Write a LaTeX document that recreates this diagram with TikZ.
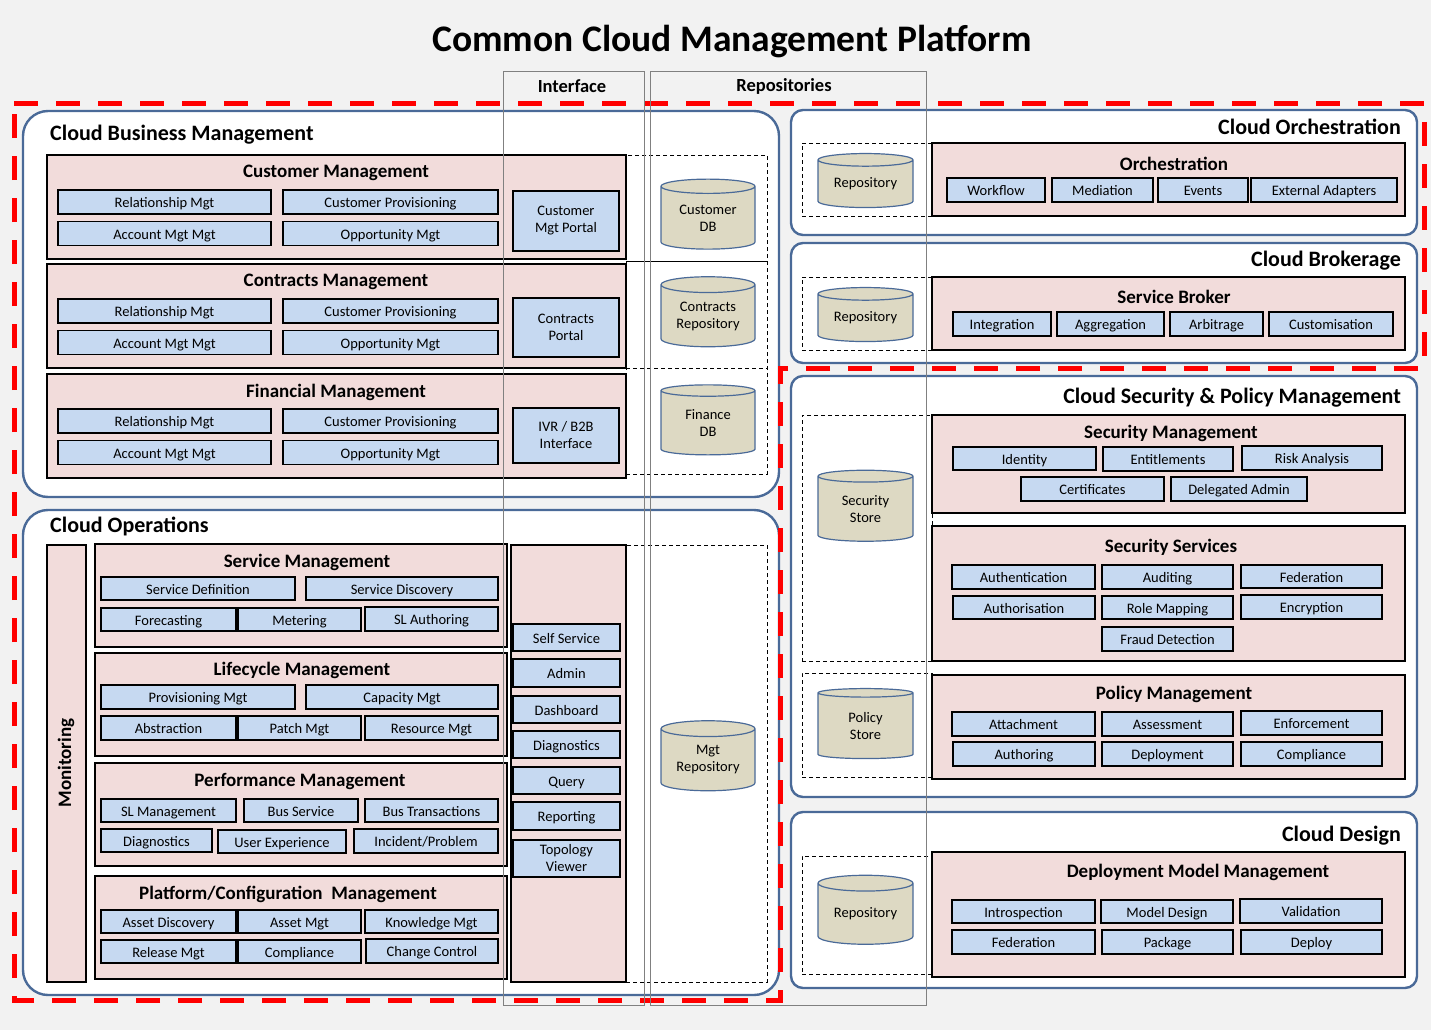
\documentclass[tikz,border=0pt]{standalone}
\usepackage{fontspec}
\setmainfont{Carlito}
\usetikzlibrary{positioning, fit, shapes.geometric, backgrounds}
\definecolor{bggray}{RGB}{242,242,242}
\definecolor{grppink}{RGB}{242,220,219}
\definecolor{subblue}{RGB}{198,217,241}
\definecolor{dbtan}{RGB}{221,217,195}
\definecolor{frameblue}{RGB}{74,106,152}
\definecolor{colgray}{RGB}{128,128,128}

\tikzset{
  area/.style={draw=frameblue, line width=2.4pt, fill=white, inner sep=0pt, rounded corners=#1},
  area/.default=12,
  areatitle/.style={font=\fontsize{22}{25}\selectfont\bfseries, inner sep=0pt},
  grp/.style={draw=black, line width=1.1pt, fill=grppink, inner sep=0pt},
  grptitle/.style={font=\fontsize{19}{22}\selectfont\bfseries, inner sep=0pt},
  sub/.style={draw=black, line width=1.1pt, fill=subblue, inner sep=0pt,
    font=\fontsize{14.5}{17}\selectfont, text height=13pt, text depth=1.5pt},
  subtwo/.style={draw=black, line width=1.1pt, fill=subblue, inner sep=0pt, align=center,
    font=\fontsize{14.5}{17}\selectfont},
  dashbox/.style={draw=black, line width=0.9pt, dash pattern=on 4pt off 3pt, inner sep=0pt},
  db/.style={cylinder, shape border rotate=90, aspect=0.25, draw=frameblue, line width=1.2pt,
    fill=dbtan, inner sep=0pt, align=center, font=\fontsize{14.5}{17}\selectfont},
  colbox/.style={draw=colgray, line width=1pt, inner sep=0pt},
  colhead/.style={font=\fontsize{18.5}{21}\selectfont\bfseries, inner sep=0pt},
  redline/.style={draw=red, line width=5pt, dash pattern=on 24pt off 18pt}
}

\begin{document}
\begin{tikzpicture}[x=1pt, y=-1pt]
\path[use as bounding box, fill=bggray] (0,0) rectangle (1431,1030);
\node[font=\fontsize{37.5}{42}\selectfont\bfseries] (maintitle) at (732,42) {Common Cloud Management Platform};

% ---- Cloud Business Management
\node[area=25, fit={(23,111)(779,497)}] (cbm) {};
\node[areatitle, anchor=west] (cbmtitle) at (50,135) {Cloud Business Management};
\node[dashbox, fit={(626,155)(767,474)}] (cbmrepo) {};
\draw[line width=0.9pt] (626,261) -- (767,261);
\draw[line width=0.9pt, dash pattern=on 4pt off 3pt] (626,368) -- (767,368);
\foreach \g/\y/\ttl in {cust/155/Customer Management, cont/264/Contracts Management, fin/374/Financial Management}{
  \node[grp, fit={(47,\y)(626,\y+104)}] (\g) {};
  \node[grptitle] (\g-title) at (336,\y+18) {\ttl};
  \node[sub, minimum width=213, minimum height=24] (\g-rel) at (164.5,\y+47) {Relationship Mgt};
  \node[sub, minimum width=215, minimum height=24] (\g-prov) at (390.5,\y+47) {Customer Provisioning};
  \node[sub, minimum width=213, minimum height=24] (\g-acct) at (164.5,\y+78.5) {Account Mgt Mgt};
  \node[sub, minimum width=215, minimum height=24] (\g-opp) at (390.5,\y+78.5) {Opportunity Mgt};
}
\node[subtwo, minimum width=106, minimum height=60] (custportal) at (566,221) {Customer\\Mgt Portal};
\node[subtwo, minimum width=106, minimum height=59] (contportal) at (566,327.5) {Contracts\\Portal};
\node[subtwo, minimum width=106, minimum height=55] (finportal) at (566,435.5) {IVR / B2B\\Interface};
\node[db, minimum width=94pt, minimum height=70pt] (custdb) at (708,218) {Customer\\DB};
\node[db, minimum width=94pt, minimum height=70pt] (contdb) at (708,316) {Contracts\\Repository};
\node[db, minimum width=94pt, minimum height=70pt] (findb) at (708,423) {Finance\\DB};

% ---- Cloud Operations
\node[area=25, fit={(23,510)(779,995)}] (cops) {};
\node[areatitle, anchor=west] (copstitle) at (50,526) {Cloud Operations};
\node[grp, fit={(47,545)(86,982)}] (monitor) {};
\node[grptitle, rotate=90] (montitle) at (66,763) {Monitoring};
\node[grp, fit={(95,544)(507,647)}] (svcmgt) {};
\node[grptitle] (svcmgttitle) at (307,562) {Service Management};
\node[grp, fit={(95,653)(507,756)}] (lcmgt) {};
\node[grptitle] (lcmgttitle) at (302,670) {Lifecycle Management};
\node[grp, fit={(95,763)(507,866)}] (perfmgt) {};
\node[grptitle] (perfmgttitle) at (300,781) {Performance Management};
\node[grp, fit={(95,876)(507,979)}] (platmgt) {};
\node[grptitle] (platmgttitle) at (288,894) {Platform/Configuration\ \ Management};
\foreach \nm/\xa/\ya/\xb/\yb/\txt in {
  svcdef/101/577/295/600/Service Definition, svcdisc/306/577/498/600/Service Discovery,
  forecast/101/608/236/631/Forecasting, meter/238/608/361/631/Metering, slauth/365/607/498/631/SL Authoring,
  provmgt/101/685/295/709/Provisioning Mgt, capmgt/306/685/498/709/Capacity Mgt,
  abstr/101/716/236/740/Abstraction, patch/238/716/361/740/Patch Mgt, resmgt/365/716/498/740/Resource Mgt,
  slmgt/101/799/236/822/SL Management, bussvc/244/799/358/822/Bus Service, bustx/365/799/498/822/Bus Transactions,
  diag/101/829/212/852/Diagnostics, userexp/218/830/346/853/User Experience, incprob/354/829/498/853/{Incident/Problem},
  assetdisc/101/910/236/933/Asset Discovery, assetmgt/238/910/361/933/Asset Mgt, knowmgt/365/910/498/933/Knowledge Mgt,
  relmgt/101/940/236/963/Release Mgt, compl/238/940/361/963/Compliance, chgctl/366/939/498/963/Change Control}{
  \node[sub, minimum width=\xb-\xa, minimum height=\yb-\ya] (\nm) at ({(\xa+\xb)/2},{(\ya+\yb)/2}) {\txt};
}
\node[grp, fit={(511,545)(626,982)}] (opsiface) {};
\foreach \nm/\ya/\yb/\txt in {selfsvc/624/651/Self Service, admin/659/687/Admin, dashb/696/723/Dashboard,
  diagi/731/758/Diagnostics, query/767/794/Query, report/802/830/Reporting}{
  \node[sub, minimum width=107, minimum height=\yb-\ya] (\nm) at (566.5,{(\ya+\yb)/2}) {\txt};
}
\node[subtwo, minimum width=107, minimum height=37] (topo) at (566.5,858.5) {Topology\\Viewer};
\node[dashbox, fit={(626,545)(767,982)}] (opsrepo) {};
\node[db, minimum width=94pt, minimum height=70pt] (mgtdb) at (708,760) {Mgt\\Repository};

% ---- Cloud Orchestration
\node[area, fit={(791,110)(1417,235)}] (corch) {};
\node[areatitle, anchor=east] (corchtitle) at (1401,127) {Cloud Orchestration};
\node[dashbox, fit={(802,143)(932,216)}] (orchrepo) {};
\node[db, aspect=0.2, minimum width=95pt, minimum height=54pt] (orchdb) at (865.5,184) {Repository};
\node[grp, fit={(932,143)(1405,216)}] (orch) {};
\node[grptitle] (orchtitle) at (1174,164) {Orchestration};
\foreach \nm/\xa/\xb/\txt in {workflow/947/1045/Workflow, mediation/1052/1153/Mediation,
  events/1158/1248/Events, extadapt/1251/1397/External Adapters}{
  \node[sub, minimum width=\xb-\xa, minimum height=24] (\nm) at ({(\xa+\xb)/2},190) {\txt};
}

% ---- Cloud Brokerage
\node[area, fit={(791,243)(1417,363)}] (cbrok) {};
\node[areatitle, anchor=east] (cbroktitle) at (1401,261) {Cloud Brokerage};
\node[dashbox, fit={(802,277)(932,350)}] (brokrepo) {};
\node[db, aspect=0.2, minimum width=95pt, minimum height=54pt] (brokdb) at (865.5,318) {Repository};
\node[grp, fit={(932,277)(1405,350)}] (broker) {};
\node[grptitle] (brokertitle) at (1174,297) {Service Broker};
\foreach \nm/\xa/\xb/\txt in {integ/953/1051/Integration, aggr/1057/1164/Aggregation,
  arbit/1170/1263/Arbitrage, custom/1269/1393/Customisation}{
  \node[sub, minimum width=\xb-\xa, minimum height=24] (\nm) at ({(\xa+\xb)/2},324) {\txt};
}

% ---- Cloud Security & Policy Management
\node[area, fit={(791,376)(1417,797)}] (csec) {};
\node[areatitle, anchor=east] (csectitle) at (1401,398) {Cloud Security \& Policy Management};
\node[dashbox, fit={(802,415)(932,661)}] (secrepo) {};
\node[dashbox, fit={(802,673)(932,777)}] (polrepo) {};
\node[db, minimum width=95pt, minimum height=71pt] (secdb) at (865.5,509) {Security\\Store};
\node[db, minimum width=95pt, minimum height=70pt] (poldb) at (865.5,726) {Policy\\Store};
\node[grp, fit={(932,415)(1405,513)}] (secmgt) {};
\node[grptitle] (secmgttitle) at (1171,433) {Security Management};
\node[grp, fit={(932,526)(1405,661)}] (secsvc) {};
\node[grptitle] (secsvctitle) at (1171,547) {Security Services};
\node[grp, fit={(932,675)(1405,779)}] (polmgt) {};
\node[grptitle] (polmgttitle) at (1174,694) {Policy Management};
\foreach \nm/\xa/\ya/\xb/\yb/\txt in {
  identity/953/447/1096/470/Identity, entitle/1103/447/1233/471/Entitlements, risk/1242/446/1382/470/Risk Analysis,
  cert/1021/477/1164/501/Certificates, delegadmin/1171/477/1307/501/Delegated Admin,
  authn/952/565/1095/589/Authentication, audit/1102/565/1233/589/Auditing, fed/1241/565/1382/588/Federation,
  authz/953/596/1095/619/Authorisation, rolemap/1102/596/1233/619/Role Mapping, encrypt/1241/595/1382/619/Encryption,
  fraud/1102/627/1233/651/Fraud Detection,
  attach/952/712/1095/736/Attachment, assess/1102/712/1233/736/Assessment, enforce/1241/711/1382/735/Enforcement,
  authoring/953/742/1095/766/Authoring, deploym/1102/742/1233/766/Deployment, polcompl/1241/742/1382/766/Compliance}{
  \node[sub, minimum width=\xb-\xa, minimum height=\yb-\ya] (\nm) at ({(\xa+\xb)/2},{(\ya+\yb)/2}) {\txt};
}

% ---- Cloud Design
\node[area, fit={(791,812)(1417,988)}] (cdes) {};
\node[areatitle, anchor=east] (cdestitle) at (1401,836) {Cloud Design};
\node[dashbox, fit={(802,856)(932,974)}] (desrepo) {};
\node[db, minimum width=95pt, minimum height=69pt] (desdb) at (865.5,914) {Repository};
\node[grp, fit={(932,852)(1405,977)}] (depmgt) {};
\node[grptitle] (depmgttitle) at (1198,872) {Deployment Model Management};
\foreach \nm/\xa/\ya/\xb/\yb/\txt in {
  introsp/952/900/1095/923/Introspection, modeldes/1101/900/1233/923/Model Design, valid/1240/899/1382/923/Validation,
  fed2/952/930/1095/954/Federation, package/1102/930/1233/954/Package, deploy/1241/930/1382/954/Deploy}{
  \node[sub, minimum width=\xb-\xa, minimum height=\yb-\ya] (\nm) at ({(\xa+\xb)/2},{(\ya+\yb)/2}) {\txt};
}

% scope of the platform
\draw[redline] (14,104) -| (1424,368) -| (780,1000) -| (14,104);

% interface and repository columns
\node[colbox, fit={(503,72)(644,1005)}] (ifacecol) {};
\node[colhead] (ifacehead) at (572,86) {Interface};
\node[colbox, fit={(650,72)(926,1005)}] (repocol) {};
\node[colhead] (repohead) at (784,86) {Repositories};
\end{tikzpicture}
\end{document}
